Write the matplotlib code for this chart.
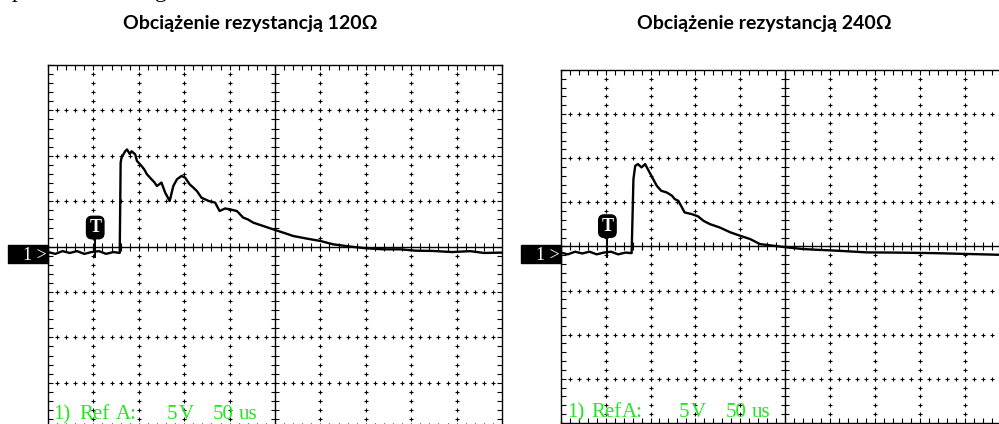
import numpy as np
import matplotlib
matplotlib.use("Agg")
import matplotlib.pyplot as plt
from matplotlib.patches import Rectangle

# time on screen (us), voltage (V); 50 us/div, 5 V/div
t_120 = [0, 8, 16, 24, 32, 40, 48, 56, 64, 72, 79, 80, 81, 85, 87, 90, 92, 96, 98, 103, 106,
         109, 114, 117, 120, 125, 129, 134, 138, 142, 147, 151, 156, 160, 164, 169, 177, 184,
         189, 195, 200, 208, 215, 220, 226, 237, 248, 259, 270, 285, 300, 314, 333, 351,
         370, 388, 405, 424, 445, 465, 480, 500]
v_120 = [-0.6, -0.8, -0.5, -0.7, -0.5, -0.8, -0.6, -0.5, -0.8, -0.6, -0.7, 9.25, 9.8, 10.5,
         10.7, 10.2, 10.5, 10.17, 9.43, 8.88, 8.5, 7.96, 7.41, 7.1, 6.67, 7.05, 5.95, 5.02,
         6.67, 7.41, 7.78, 7.6, 6.86, 6.5, 6.12, 5.39, 5.02, 4.85, 3.92, 4.2, 4.11, 3.92,
         3.19, 3.0, 2.64, 2.27, 1.9, 1.54, 1.17, 0.88, 0.62, 0.25, 0.0, -0.19, -0.3, -0.3,
         -0.45, -0.48, -0.6, -0.5, -0.7, -0.66]

t_240 = [0, 8, 16, 24, 32, 40, 48, 56, 64, 72, 79, 81, 83, 86, 90, 94, 98, 101, 107, 112,
         118, 124, 127, 131, 135, 138, 146, 153, 159, 166, 177, 189, 200, 211, 222, 237, 252,
         270, 285, 310, 341, 370, 415, 450, 500]
v_240 = [-0.7, -0.9, -0.6, -0.8, -0.6, -0.9, -0.7, -0.6, -0.9, -0.7, -0.76, 7.63, 9.14,
         9.33, 8.96, 9.33, 8.57, 8.0, 6.87, 6.3, 6.12, 5.74, 5.36, 5.17, 4.42, 3.85, 3.66,
         3.4, 2.9, 2.53, 2.15, 1.59, 1.2, 0.83, 0.26, 0.07, -0.11, -0.3, -0.38, -0.5, -0.68,
         -0.7, -0.76, -0.85, -0.98]

titles = ["Obciążenie rezystancją 120Ω", "Obciążenie rezystancją 240Ω"]
ref_words = ["1)", "Ref", "A:", "5", "V", "50", "us"]

W, H = 999, 424
GREEN = "#22e622"


def fx(x):
    return x / W


def fy(y):
    return 1 - y / H


fig = plt.figure(figsize=(W / 100, H / 100), dpi=100)
fig.patch.set_facecolor("white")


def scope(left, top, div_w, div_h, t, v, title, title_x, word_x, word_y, trig_y):
    ax = fig.add_axes([fx(left), fy(top + 8 * div_h), 10 * div_w / W, 8 * div_h / H])
    ax.set_xlim(0, 500)
    ax.set_ylim(-20, 20)
    for s in ax.spines.values():
        s.set_linewidth(1.0)
    ax.set_xticks(np.arange(0, 501, 10))
    ax.set_yticks(np.arange(-20, 21, 1))
    ax.tick_params(which="both", direction="in", length=3.6, width=0.8,
                   top=True, right=True, labelbottom=False, labelleft=False)

    # dotted grid made of small crosses
    xs = np.arange(10, 500, 10)
    ys = np.arange(-19, 20, 1)
    for gy in [-15, -10, -5, 5, 10, 15]:
        ax.plot(xs, np.full(len(xs), gy), ls="none", marker="+", ms=3, mew=0.8, color="k")
    for gx in [50, 100, 150, 200, 300, 350, 400, 450]:
        ax.plot(np.full(len(ys), gx), ys, ls="none", marker="+", ms=3, mew=0.8, color="k")

    # centre axes with ticks
    ax.axhline(0, color="k", lw=1.0)
    ax.axvline(250, color="k", lw=1.0)
    ax.plot(xs, np.zeros(len(xs)), ls="none", marker="|", ms=6, mew=0.8, color="k")
    ax.plot(np.full(len(ys), 250), ys, ls="none", marker="_", ms=6, mew=0.8, color="k")

    # trace
    ax.plot(t, v, color="k", lw=1.7, zorder=5)

    # trigger marker
    ax.plot([52, 52], [trig_y - 1.0, -1.2], color="k", lw=1.4, zorder=6)
    ax.text(52, trig_y, "T", color="white", fontsize=13, fontweight="bold",
            family="Liberation Serif", ha="center", va="center", zorder=7,
            bbox=dict(boxstyle="round,pad=0.15,rounding_size=0.3", fc="black", ec="black"))

    # channel marker
    fig.patches.append(Rectangle((fx(left - 40), fy(263)), 40 / W, 18 / H,
                                 transform=fig.transFigure, color="black"))
    fig.text(fx(left - 1), fy(255), "1 >", color="white", fontsize=13,
             family="Liberation Serif", ha="right", va="center")

    # reference label
    for w, x in zip(ref_words, word_x):
        fig.text(fx(x), fy(word_y), w, color=GREEN, fontsize=15,
                 family="Liberation Serif", ha="left", va="baseline")

    fig.text(fx(title_x), fy(24), title, fontsize=14, fontweight="bold",
             family="Lato", ha="center", va="center")


scope(48, 65, 45.4, 45.4, t_120, v_120, titles[0], 250,
      [53, 79, 116, 167, 179, 213, 239], 419, 2.1)
scope(560.7, 70, 44.9, 44.1, t_240, v_240, titles[1], 764,
      [567, 591, 622, 679, 691, 726, 752], 417, 2.3)

# clipped line of the document above
fig.text(fx(12), fy(-3), "p", fontsize=17, family="Liberation Serif", va="baseline")
fig.text(fx(155), fy(-3), "g", fontsize=17, family="Liberation Serif", va="baseline")

fig.savefig("out.png", dpi=100, facecolor="white")
